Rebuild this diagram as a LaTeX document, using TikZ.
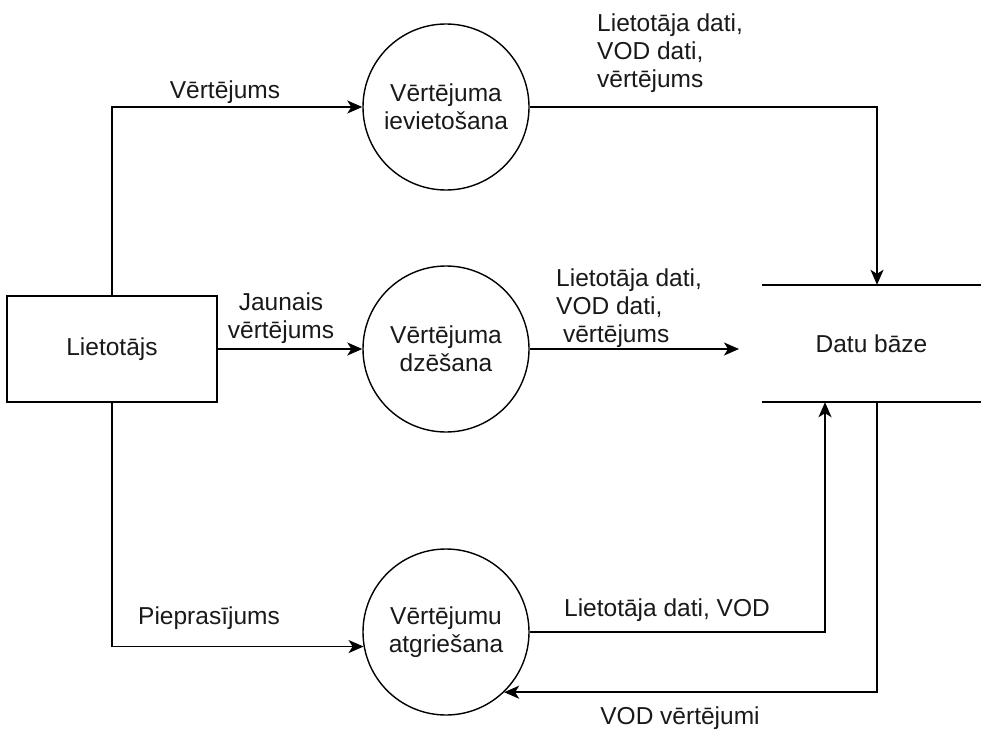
\documentclass[tikz,border=0pt]{standalone}
\usepackage{fontspec}
\setmainfont{Liberation Sans}
\usetikzlibrary{arrows.meta}

\begin{document}
\begin{tikzpicture}[x=1pt,y=-1pt,
  every node/.style={font=\fontsize{24.5}{28}\selectfont, inner sep=0pt, text=black!90},
  entity/.style={draw, line width=1.7pt, minimum width=210pt, minimum height=106pt},
  process/.style={draw, line width=1.4pt, circle, minimum size=166pt, align=center},
  store/.style={minimum width=219pt, minimum height=117pt},
  flow/.style={line width=1.7pt, -{Stealth[length=15pt,width=13pt,inset=4pt]}},
  plain/.style={line width=1.7pt},
  lbl/.style={align=center}
]
\useasboundingbox (0,0) rectangle (981,733);

% external entity
\node[entity] (user) at (112,349) {Lietotājs};

% processes
\node[process] (ins) at (446,107) {Vērtējuma\\ievietošana};
\node[process] (del) at (446,349) {Vērtējuma\\dzēšana};
\node[process] (ret) at (446,632) {Vērtējumu\\atgriešana};

% data store: two horizontal rules
\node[store] (db) at (871.5,343.5) {Datu bāze};
\draw[plain] (db.north west) -- (db.north east);
\draw[plain] (db.south west) -- (db.south east);
\coordinate (dbin) at (739,349);

% data flows
\draw[flow] (user.north) |- (ins.west);
\draw[flow] (user.east) -- (del.west);
\draw[flow] (user.south) |- (ret.190);
\draw[flow] (ins.east) -| ([xshift=5.5pt]db.north);
\draw[flow] (del.east) -- (dbin);
\draw[flow] (ret.east) -| ([xshift=-46.5pt]db.south);
\draw[flow] ([xshift=5.5pt]db.south) |- (ret.-46);

% flow labels
\node[lbl] (l1) at (225,92) {Vērtējums};
\node[lbl] (l2) at (281,318) {Jaunais\\vērtējums};
\node[lbl] (l3) at (209,618) {Pieprasījums};
\node[align=left, anchor=west] (l4) at (597,53) {Lietotāja dati,\\VOD dati,\\vērtējums};
\node[align=left, anchor=west] (l5) at (556,308) {Lietotāja dati,\\VOD dati,\\\hspace{0.28em}vērtējums};
\node[lbl] (l6) at (667,610) {Lietotāja dati, VOD};
\node[lbl] (l7) at (680,718) {VOD vērtējumi};
\end{tikzpicture}
\end{document}
